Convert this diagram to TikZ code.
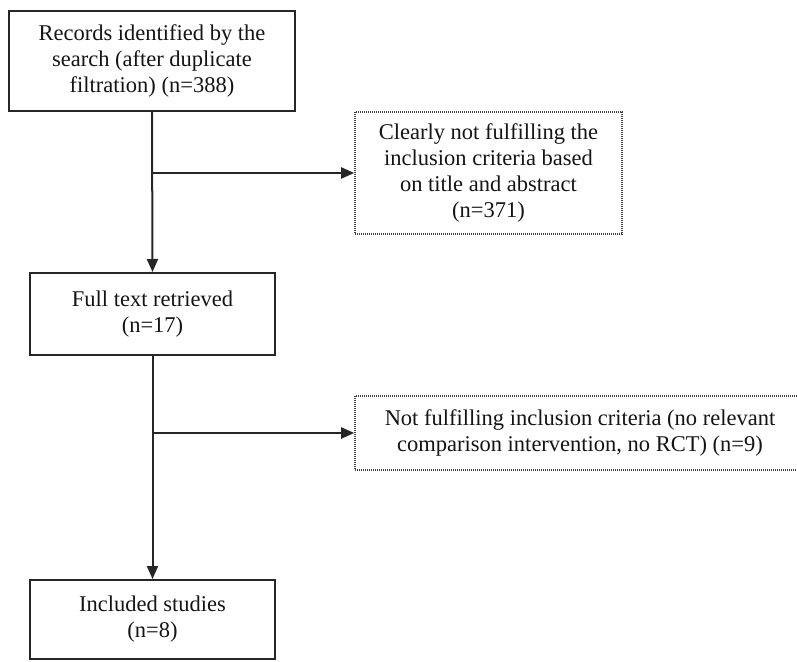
\documentclass[tikz,border=0pt]{standalone}
\usepackage{fontspec}
\setmainfont{Liberation Serif}
\usepackage{tikz}
\usetikzlibrary{arrows.meta}

\begin{document}
\begin{tikzpicture}[x=1pt,y=-1pt]
		\tikzstyle{every node}=[font=\fontsize{22.5}{26}\selectfont, text=black!92, align=center, inner sep=0pt]
		\tikzstyle{solidbox}=[draw=black!85, line width=2pt]
		\tikzstyle{dotbox}=[draw=black!75, line width=1.6pt, dash pattern=on 1pt off 1pt]
		\tikzstyle{flow}=[draw=black!85, line width=2pt, -{Triangle[length=13pt,width=11pt]}]

		\useasboundingbox (0,0) rectangle (797,661);

		\node [solidbox, minimum width=286pt, minimum height=100pt] (records) at (152,61) {Records identified by the\\search (after duplicate\\filtration) (n=388)};
		\node [dotbox, minimum width=267pt, minimum height=122pt] (screened) at (488.5,173) {Clearly not fulfilling the\\inclusion criteria based\\on title and abstract\\(n=371)};
		\node [solidbox, minimum width=245pt, minimum height=82pt] (fulltext) at (152.5,314) {Full text retrieved\\(n=17)};
		\node [dotbox, minimum width=450pt, minimum height=74pt] (excluded) at (580,433) {Not fulfilling inclusion criteria (no relevant\\comparison intervention, no RCT) (n=9)};
		\node [solidbox, minimum width=245pt, minimum height=79pt] (included) at (152.5,619.5) {Included studies\\(n=8)};

		\coordinate (branch1) at (records.south |- screened.west);
		\coordinate (branch2) at (fulltext.south |- excluded.west);

		\draw [flow] (records.south) -- (fulltext.north);
		\draw [flow] (fulltext.south) -- (included.north);
		\draw [flow] (branch1) -- (screened.west);
		\draw [flow] (branch2) -- (excluded.west);

	\end{tikzpicture}
\end{document}
